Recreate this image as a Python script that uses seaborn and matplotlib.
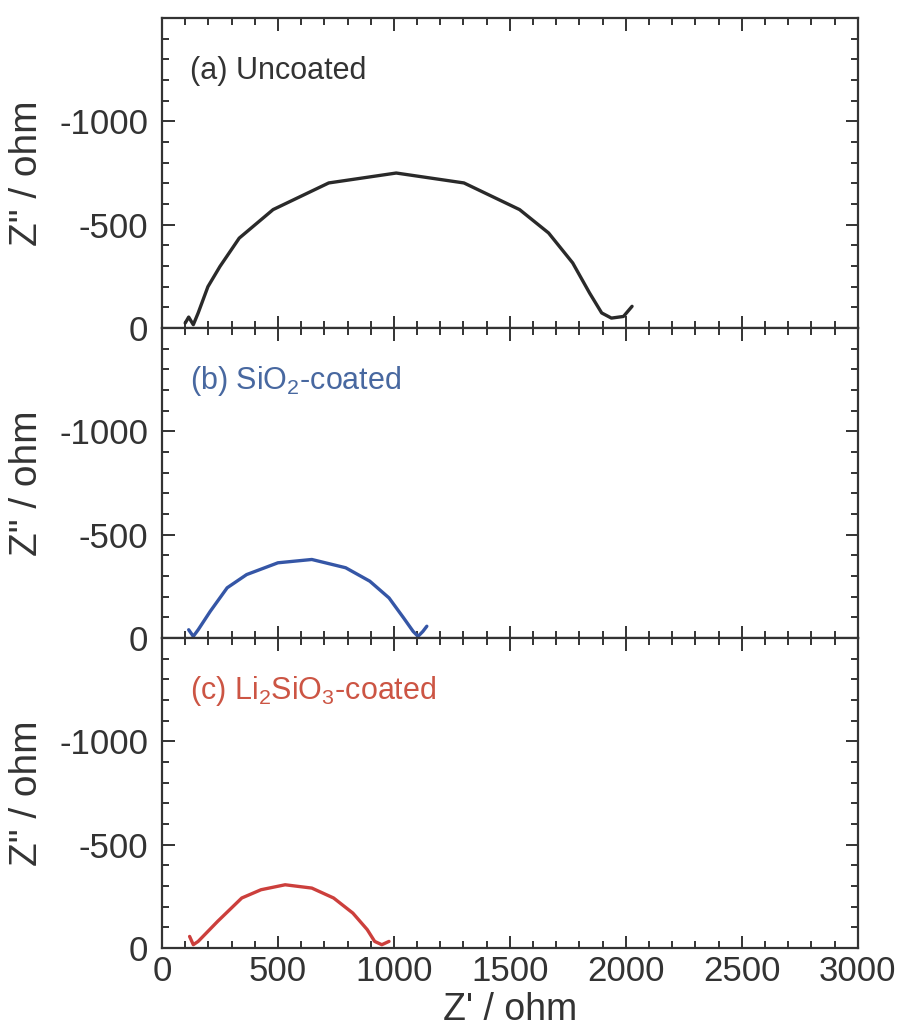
import matplotlib
matplotlib.use("Agg")
import matplotlib.pyplot as plt
from matplotlib.ticker import MultipleLocator, FixedLocator
import seaborn as sns
import pandas as pd

# Data: Z' (ohm) and Z'' (ohm, negative)
a_zre = [100, 115, 135, 156, 198, 250, 333, 479, 719, 1010, 1302, 1542, 1667, 1771, 1844, 1896, 1938, 1990, 2027]
a_zim = [-24, -53, -16, -73, -200, -298, -435, -573, -702, -750, -702, -573, -460, -315, -169, -73, -48, -56, -105]

b_zre = [115, 135, 156, 208, 281, 365, 500, 646, 792, 896, 979, 1042, 1083, 1104, 1125, 1142]
b_zim = [-40, -8, -40, -129, -243, -307, -364, -380, -340, -275, -194, -97, -32, -8, -32, -57]

c_zre = [119, 135, 156, 240, 344, 427, 531, 646, 740, 823, 885, 917, 948, 979]
c_zim = [-56, -16, -32, -129, -242, -282, -306, -290, -242, -169, -89, -32, -16, -32]

labels = ["(a) Uncoated", "(b) SiO$_2$-coated", "(c) Li$_2$SiO$_3$-coated"]
line_colors = ["#2a2a2a", "#3556a6", "#cc3f3c"]
text_colors = ["#333333", "#4868a0", "#cc5544"]
y_ticks = [0, -500, -1000]
y_ticklabels = ["0", "-500", "-1000"]
x_ticks = [0, 500, 1000, 1500, 2000, 2500, 3000]

sns.set_style("ticks")
plt.rcParams["font.family"] = ["Liberation Sans", "DejaVu Sans"]
plt.rcParams["mathtext.fontset"] = "custom"
plt.rcParams["mathtext.rm"] = "Liberation Sans"
plt.rcParams["mathtext.default"] = "regular"
plt.rcParams["axes.unicode_minus"] = False

fig = plt.figure(figsize=(9, 10.3), dpi=100)
left, right = 0.18, 0.953
bottom, top = 0.0796, 0.9825
h = (top - bottom) / 3
axes = [fig.add_axes([left, top - (i + 1) * h, right - left, h]) for i in range(3)]

series = [(a_zre, a_zim), (b_zre, b_zim), (c_zre, c_zim)]
for i, ax in enumerate(axes):
    df = pd.DataFrame({"zre": series[i][0], "zim": series[i][1]})
    sns.lineplot(data=df, x="zre", y="zim", sort=False, estimator=None,
                 color=line_colors[i], lw=2.4, ax=ax)
    ax.set_xlim(0, 3000)
    ax.set_ylim(0, -1500)
    ax.xaxis.set_major_locator(FixedLocator(x_ticks))
    ax.xaxis.set_minor_locator(MultipleLocator(100))
    ax.yaxis.set_major_locator(FixedLocator(y_ticks))
    ax.yaxis.set_minor_locator(MultipleLocator(100))
    ax.set_yticklabels(y_ticklabels)
    ax.tick_params(which="both", direction="in", top=True, right=True,
                   width=1.4, color="#333333")
    ax.tick_params(which="major", length=9)
    ax.tick_params(which="minor", length=5)
    ax.tick_params(axis="both", labelsize=25, labelcolor="#333333")
    ax.tick_params(axis="y", pad=10)
    ax.tick_params(axis="x", pad=5)
    for sp in ax.spines.values():
        sp.set_linewidth(1.6)
        sp.set_color("#333333")
    ax.set_ylabel('Z" / ohm', fontsize=28, color="#333333")
    ax.yaxis.set_label_coords(-0.168, 0.5)
    ax.text(0.04, 0.83, labels[i], transform=ax.transAxes, fontsize=22,
            color=text_colors[i], va="center", ha="left")
    if i < 2:
        ax.set_xlabel("")
        ax.tick_params(axis="x", labelbottom=False)
    else:
        ax.set_xlabel("Z' / ohm", fontsize=27, color="#333333", labelpad=3)

fig.savefig("out.png", dpi=100, facecolor="white")
